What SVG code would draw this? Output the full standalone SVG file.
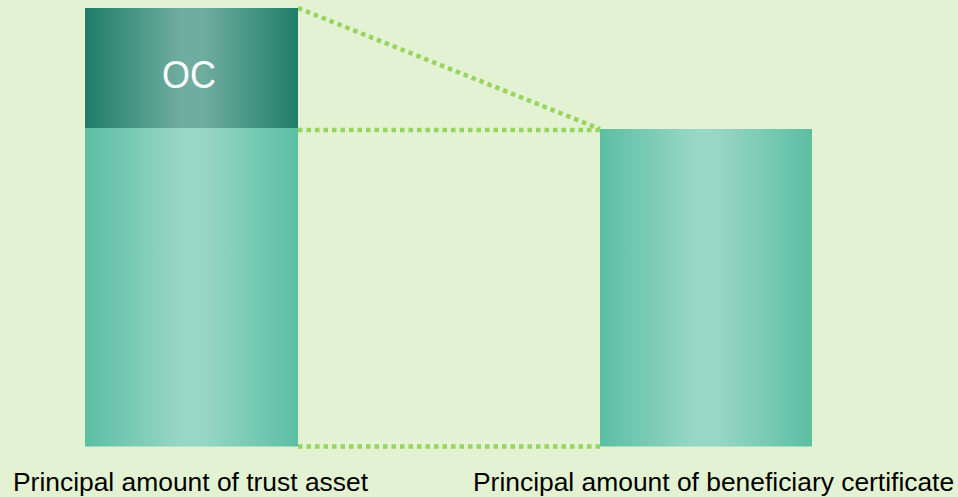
<svg xmlns="http://www.w3.org/2000/svg" width="958" height="497" viewBox="0 0 958 497">
<style>
.dot{stroke:#98d45f;stroke-width:4.5;stroke-dasharray:4.5 4;fill:none}
.lbl{font-family:"Liberation Sans",Arial,sans-serif;font-size:26.4px;fill:#000}
.oc{font-family:"Liberation Sans",Arial,sans-serif;font-size:36px;fill:#fff}
</style>
<defs>
<linearGradient id="gL" x1="0" y1="0" x2="1" y2="0">
<stop offset="0" stop-color="#5cbea3"/>
<stop offset="0.45" stop-color="#98d7c5"/>
<stop offset="0.55" stop-color="#98d7c5"/>
<stop offset="1" stop-color="#5cbea3"/>
</linearGradient>
<linearGradient id="gD" x1="0" y1="0" x2="1" y2="0">
<stop offset="0" stop-color="#1f7e68"/>
<stop offset="0.45" stop-color="#6fada0"/>
<stop offset="0.55" stop-color="#6fada0"/>
<stop offset="1" stop-color="#1f7e68"/>
</linearGradient>
</defs>
<rect x="0" y="0" width="958" height="497" fill="#e2f2d2"/>
<g id="connectors">
<line class="dot" x1="298" y1="8" x2="600" y2="129"/>
<line class="dot" x1="298" y1="130" x2="600" y2="130"/>
<line class="dot" x1="298" y1="446.5" x2="600" y2="446.5"/>
</g>
<g id="trust-asset">
<rect x="85" y="128" width="213" height="318.5" fill="url(#gL)"/>
<text class="lbl" x="13" y="491">Principal amount of trust asset</text>
</g>
<g id="oc">
<rect x="85" y="8" width="213" height="120" fill="url(#gD)"/>
<text class="oc" transform="translate(189,88) scale(1,1.08)" x="0" y="0" text-anchor="middle">OC</text>
</g>
<g id="beneficiary-certificate">
<rect x="600" y="129" width="212" height="317.5" fill="url(#gL)"/>
<text class="lbl" x="473" y="491">Principal amount of beneficiary certificate</text>
</g>
</svg>
